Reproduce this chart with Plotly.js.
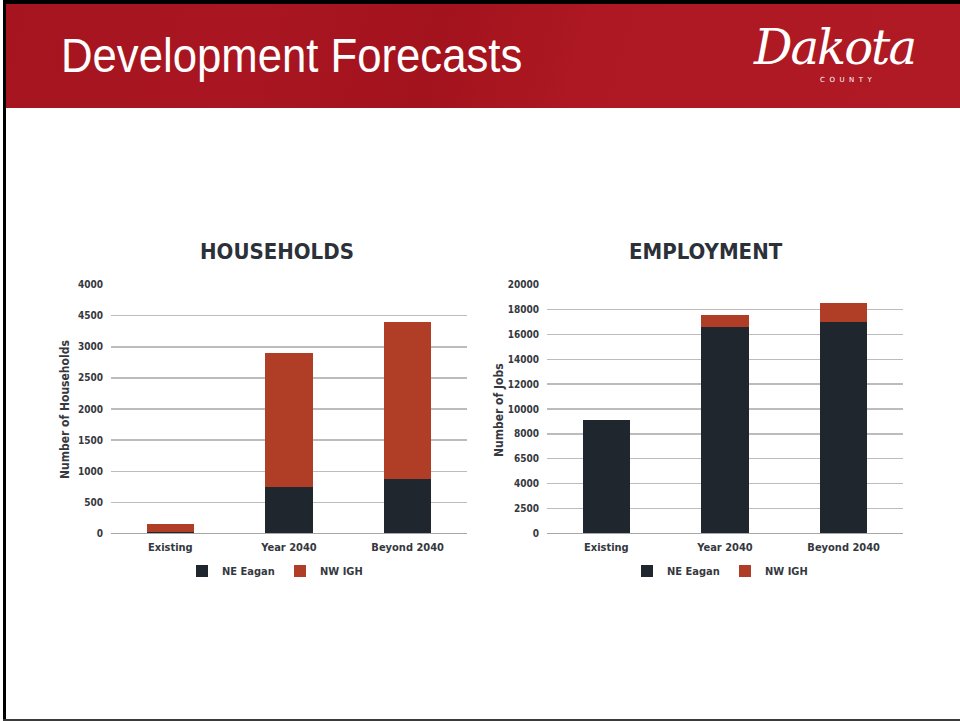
<!DOCTYPE html>
<html>
<head>
<meta charset="utf-8">
<script src="https://cdn.plot.ly/plotly-3.0.1.min.js"></script>
<style>
  html, body { margin:0; padding:0; background:#ffffff; }
  #page { position:relative; width:960px; height:721px; overflow:hidden; background:#ffffff; }
  #chart { position:absolute; left:0; top:0; width:960px; height:721px; }
  #header {
    position:absolute; left:5px; top:3px; width:955px; height:105px;
    background: linear-gradient(105deg, #a5141f 0%, #a91621 25%, #a3131d 45%, #ad1822 60%, #b01a24 100%);
    z-index:2;
  }
  #border-top { position:absolute; left:3px; top:0; width:957px; height:4px; background:#000; z-index:3; }
  #border-left { position:absolute; left:3px; top:0; width:3px; height:721px; background:#000; z-index:3; }
  #border-bottom { position:absolute; left:3px; top:719px; width:957px; height:2px; background:#3a3a3a; z-index:3; }
  #slide-title {
    position:absolute; left:61px; top:28px; color:#ffffff;
    font-family:"Liberation Sans", Arial, sans-serif; font-size:48px; line-height:56px;
    transform-origin:left top; transform:scaleX(0.91); white-space:nowrap; z-index:4;
  }
  #logo { position:absolute; left:750px; top:17px; width:190px; height:76px; z-index:4; color:#fff; }
  #logo .name { position:absolute; left:4px; top:0px; font-family:"DejaVu Serif", serif; font-style:italic; font-size:48px; letter-spacing:-2px; line-height:60px; }
  #logo .county { position:absolute; left:70px; top:59px; font-family:"DejaVu Sans", sans-serif; font-size:7px; letter-spacing:4.5px; }
</style>
</head>
<body>
<div id="page">
  <div id="chart"></div>
  <div id="header"></div>
  <div id="border-top"></div>
  <div id="border-left"></div>
  <div id="border-bottom"></div>
  <div id="slide-title">Development Forecasts</div>
  <div id="logo"><span class="name">Dakota</span><span class="county">COUNTY</span></div>
</div>
<script>
// ---- data ----
const categories = ['Existing', 'Year 2040', 'Beyond 2040'];
const seriesNames = ['NE Eagan', 'NW IGH'];
const householdsNEEagan = [15, 750, 870];
const householdsNWIGH = [135, 2150, 2530];
const jobsNEEagan = [9100, 16600, 17000];
const jobsNWIGH = [0, 1000, 1500];
const householdsTickVals = [0, 500, 1000, 1500, 2000, 2500, 3000, 3500, 4000];
const householdsTickText = ['0', '500', '1000', '1500', '2000', '2500', '3000', '4500', '4000'];
const jobsTickVals = [0, 2000, 4000, 6000, 8000, 10000, 12000, 14000, 16000, 18000, 20000];
const jobsTickText = ['0', '2500', '4000', '6500', '8000', '10000', '12000', '14000', '16000', '18000', '20000'];
const chartTitles = ['HOUSEHOLDS', 'EMPLOYMENT'];
const axisTitles = ['Number of Households', 'Number of Jobs'];

// ---- style ----
const DARK = '#1f262e';
const RED = '#b03e27';
const FONT = '"Liberation Sans Narrow", "DejaVu Sans Condensed", "Roboto", sans-serif';
const TXT = '#353840';
const W = 960, H = 721;
const px = v => v / W;
const py = v => (H - v) / H;

const traces = [
  { type:'bar', x:categories, y:householdsNEEagan, name:seriesNames[0], marker:{color:DARK}, xaxis:'x', yaxis:'y', legend:'legend' },
  { type:'bar', x:categories, y:householdsNWIGH, name:seriesNames[1], marker:{color:RED}, xaxis:'x', yaxis:'y', legend:'legend' },
  { type:'bar', x:categories, y:jobsNEEagan, name:seriesNames[0], marker:{color:DARK}, xaxis:'x2', yaxis:'y2', legend:'legend2' },
  { type:'bar', x:categories, y:jobsNWIGH, name:seriesNames[1], marker:{color:RED}, xaxis:'x2', yaxis:'y2', legend:'legend2' }
];

const tickFont = { family:FONT, size:10, color:TXT, weight:600 };
const catFont = { family:FONT, size:11, color:TXT, weight:600 };
const yBase = { showline:false, ticks:'', gridcolor:'#bcbcbc', gridwidth:1.3, zeroline:true, zerolinecolor:'#a8a8a8', zerolinewidth:1.3, tickfont:tickFont, tickmode:'array', ticklabelstandoff:7, fixedrange:true };
const xBase = { showline:false, ticks:'', tickfont:catFont, fixedrange:true, ticklabelstandoff:6 };

const legendBase = { orientation:'h', xanchor:'left', yanchor:'middle', font:{family:FONT, size:11, color:TXT, weight:600}, bgcolor:'rgba(0,0,0,0)', traceorder:'normal', entrywidth:53, entrywidthmode:'pixels' };

const layout = {
  width:W, height:H,
  margin:{l:0, r:0, t:0, b:0},
  paper_bgcolor:'rgba(0,0,0,0)', plot_bgcolor:'rgba(0,0,0,0)',
  barmode:'stack', bargap:0.6,
  showlegend:true,
  xaxis: Object.assign({}, xBase, { domain:[px(111), px(467)], anchor:'y' }),
  yaxis: Object.assign({}, yBase, { domain:[py(533.3), py(284.7)], range:[0, 4000], tickvals:householdsTickVals, ticktext:householdsTickText, anchor:'x' }),
  xaxis2: Object.assign({}, xBase, { domain:[px(547), px(903)], anchor:'y2' }),
  yaxis2: Object.assign({}, yBase, { domain:[py(533.3), py(284.7)], range:[0, 20000], tickvals:jobsTickVals, ticktext:jobsTickText, anchor:'x2' }),
  legend: Object.assign({}, legendBase, { x:px(182), y:py(571) }),
  legend2: Object.assign({}, legendBase, { x:px(627), y:py(571) }),
  annotations: [
    { text:chartTitles[0], x:px(277), y:py(252), xref:'paper', yref:'paper', showarrow:false, xanchor:'center', yanchor:'middle', font:{family:FONT, size:22, color:'#2c3039', weight:700} },
    { text:chartTitles[1], x:px(706), y:py(252), xref:'paper', yref:'paper', showarrow:false, xanchor:'center', yanchor:'middle', font:{family:FONT, size:22, color:'#2c3039', weight:700} },
    { text:axisTitles[0], x:px(65), y:py(410), xref:'paper', yref:'paper', showarrow:false, textangle:-90, xanchor:'center', yanchor:'middle', font:{family:FONT, size:12, color:TXT, weight:600} },
    { text:axisTitles[1], x:px(499), y:py(410), xref:'paper', yref:'paper', showarrow:false, textangle:-90, xanchor:'center', yanchor:'middle', font:{family:FONT, size:12, color:TXT, weight:600} }
  ]
};

Plotly.newPlot('chart', traces, layout, {displayModeBar:false, staticPlot:true});
</script>
</body>
</html>
